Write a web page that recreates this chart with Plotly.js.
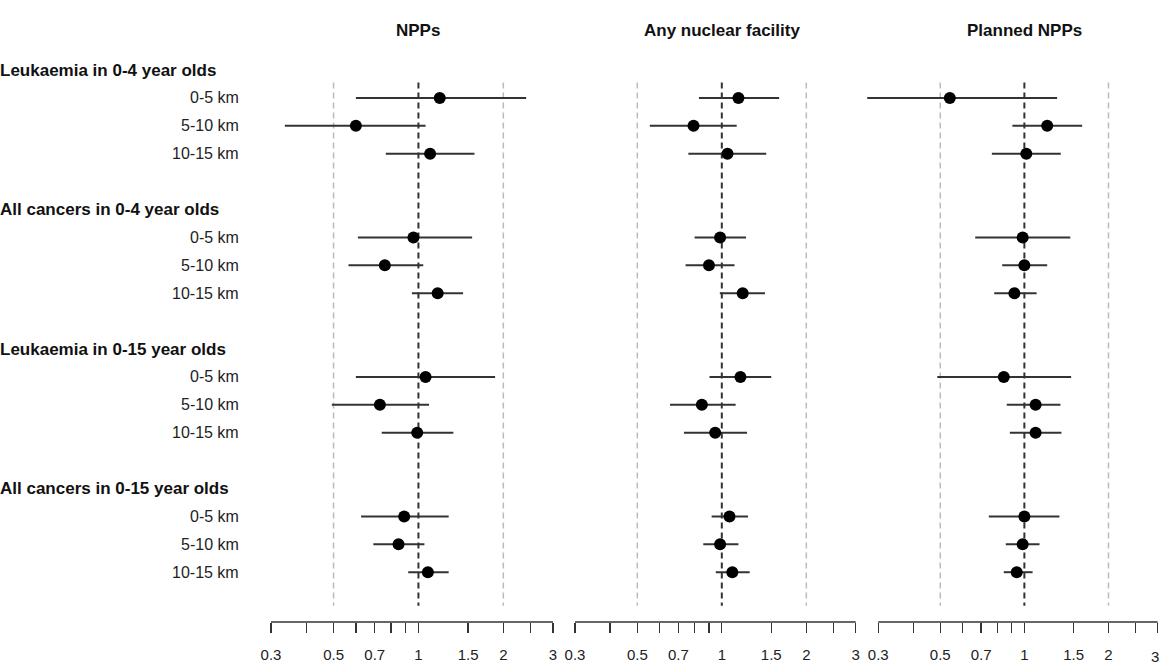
<!DOCTYPE html>
<html>
<head>
<meta charset="utf-8">
<script src="https://cdn.plot.ly/plotly-3.0.1.min.js"></script>
<style>html,body{margin:0;padding:0;background:#fff;overflow:hidden;}#chart{width:1162px;height:665px;}</style>
</head>
<body>
<div id="chart"></div>
<script>
// ---- data ----
const panels = ["NPPs", "Any nuclear facility", "Planned NPPs"];
const groups = ["Leukaemia in 0-4 year olds", "All cancers in 0-4 year olds",
                "Leukaemia in 0-15 year olds", "All cancers in 0-15 year olds"];
const distances = ["0-5 km", "5-10 km", "10-15 km"];

// order: group1 (0-5, 5-10, 10-15), group2 ..., group4
const nppEst = [1.19, 0.60, 1.10,  0.96, 0.76, 1.17,  1.06, 0.73, 0.99,  0.89, 0.85, 1.08];
const nppLo  = [0.60, 0.336, 0.766, 0.61, 0.565, 0.948, 0.60, 0.493, 0.741, 0.626, 0.692, 0.92];
const nppHi  = [2.41, 1.06, 1.58,  1.55, 1.04, 1.44,  1.87, 1.09, 1.33,  1.28, 1.05, 1.28];

const anyEst = [1.146, 0.793, 1.048, 0.986, 0.90, 1.187, 1.165, 0.849, 0.947, 1.065, 0.986, 1.09];
const anyLo  = [0.829, 0.554, 0.76,  0.80, 0.743, 0.984, 0.904, 0.654, 0.733, 0.92, 0.859, 0.952];
const anyHi  = [1.60, 1.13, 1.44,   1.22, 1.11, 1.425,  1.50, 1.12, 1.23,    1.24, 1.146, 1.257];

const planEst = [0.541, 1.207, 1.016, 0.986, 1.0, 0.921,  0.844, 1.097, 1.097, 1.0, 0.986, 0.939];
const planLo  = [0.274, 0.906, 0.765, 0.667, 0.833, 0.78, 0.488, 0.865, 0.887, 0.746, 0.858, 0.844];
const planHi  = [1.31, 1.61, 1.35,   1.46, 1.207, 1.106,  1.47, 1.346, 1.357, 1.335, 1.133, 1.07];

const tickVals = [0.3, 0.4, 0.5, 0.6, 0.7, 0.8, 0.9, 1, 1.5, 2, 2.5, 3];
const tickText = ["0.3", "", "0.5", "", "0.7", "", "", "1", "1.5", "2", "", "3"];
const refLines = [0.5, 1, 2];

// ---- build ----
const est = [nppEst, anyEst, planEst];
const lo = [nppLo, anyLo, planLo];
const hi = [nppHi, anyHi, planHi];
const axNames = ["x", "x2", "x3"];
const rowY = [];
groups.forEach((g, gi) => distances.forEach((d, di) => rowY.push(gi * 5 + 1 + di)));

const traces = [];
for (let p = 0; p < 3; p++) {
  traces.push({
    type: "scatter", mode: "markers",
    x: est[p], y: rowY, xaxis: axNames[p], yaxis: "y",
    marker: {color: "#000", size: 12},
    error_x: {type: "data", symmetric: false,
              array: est[p].map((v, i) => hi[p][i] - v),
              arrayminus: est[p].map((v, i) => v - lo[p][i]),
              color: "#333", thickness: 2, width: 0},
    cliponaxis: false, showlegend: false, hoverinfo: "skip"
  });
}

const ext = 0.04;
const r0 = Math.log10(0.3), r1 = Math.log10(3);
const domains = [[0.2235, 0.4856], [0.4852, 0.7461], [0.7462, 1.0]];
const ranges = [[r0 - ext, r1 + ext], [r0 - ext, r1 + ext], [r0 - ext, r1 + 0.0154]];

const font = "Liberation Sans, Arial, sans-serif";
const tickFont = {family: font, size: 15, color: "#222"};
const layout = {
  width: 1162, height: 665,
  margin: {l: 0, r: 0, t: 55, b: 43},
  paper_bgcolor: "#fff", plot_bgcolor: "#fff",
  showlegend: false,
  font: {family: font, size: 14, color: "#222"},
  yaxis: {range: [19.785, -0.538], showgrid: false, zeroline: false, showticklabels: false,
          showline: false, ticks: "", fixedrange: true},
  shapes: [], annotations: []
};
for (let p = 0; p < 3; p++) {
  const key = p === 0 ? "xaxis" : "xaxis" + (p + 1);
  const last = p === 2;
  layout[key] = {
    type: "log", domain: domains[p], range: ranges[p],
    showgrid: false, zeroline: false, showline: false,
    tickmode: "array", tickvals: tickVals,
    ticktext: last ? tickText.map((t, i) => i === tickText.length - 1 ? "" : t) : tickText,
    ticks: "outside", ticklen: 10, tickwidth: 1.3, tickcolor: "#333",
    ticklabelstandoff: 9,
    tickfont: tickFont,
    anchor: "y", fixedrange: true
  };
  if (last) {
    // rightmost label kept just inside the page edge
    layout.annotations.push({text: tickText[tickText.length - 1], xref: "paper", yref: "paper",
      x: 1160 / 1162, y: -0.0615, xanchor: "right", yanchor: "middle", borderpad: 0,
      showarrow: false, font: tickFont});
  }
  // axis line from 0.3 to 3
  layout.shapes.push({type: "line", xref: axNames[p], yref: "paper",
    x0: tickVals[0], x1: tickVals[tickVals.length - 1], y0: 0, y1: 0,
    line: {color: "#333", width: 1.3}});
  refLines.forEach(v => {
    layout.shapes.push({type: "line", xref: axNames[p], yref: "y",
      x0: v, x1: v, y0: 0.45, y1: 19.2, layer: "below",
      line: v === 1 ? {color: "#333", width: 2, dash: "6px,4px"}
                    : {color: "#bbb", width: 1.5, dash: "6px,4px"}});
  });
  layout.annotations.push({text: "<b>" + panels[p] + "</b>", xref: axNames[p], yref: "paper",
    x: 0, y: 1.044, xanchor: "center", yanchor: "middle", showarrow: false,
    font: {family: font, size: 17, color: "#111"}});
}
groups.forEach((g, gi) => {
  layout.annotations.push({text: "<b>" + g + "</b>", xref: "paper", yref: "y",
    x: -0.002, y: gi * 5, xanchor: "left", yanchor: "middle", showarrow: false,
    font: {family: font, size: 17, color: "#111"}});
  distances.forEach((d, di) => {
    layout.annotations.push({text: d, xref: "paper", yref: "y",
      x: 241 / 1162, y: gi * 5 + 1 + di, xanchor: "right", yanchor: "middle", showarrow: false,
      font: {family: font, size: 16, color: "#222"}});
  });
});

Plotly.newPlot("chart", traces, layout, {displayModeBar: false, staticPlot: true});
</script>
</body>
</html>
